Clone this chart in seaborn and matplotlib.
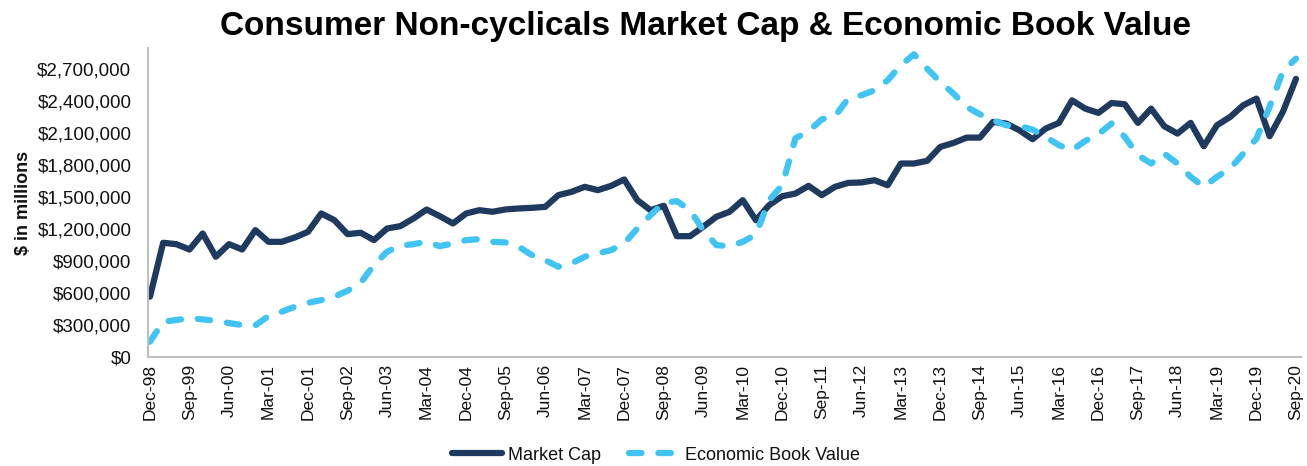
import matplotlib
matplotlib.use("Agg")
import matplotlib.pyplot as plt
import seaborn as sns
import pandas as pd
from matplotlib.ticker import FuncFormatter

# quarterly values, $ millions, Dec-98 .. Sep-20
market_cap = [
    566000, 1072000, 1059000, 1009000, 1159000, 941000, 1059000, 1009000, 1191000, 1081000,
    1081000, 1122000, 1175000, 1347000, 1284000, 1153000, 1166000, 1097000, 1206000, 1228000,
    1300000, 1384000, 1322000, 1253000, 1347000, 1378000, 1363000, 1385000, 1394000, 1400000,
    1409000, 1519000, 1550000, 1597000, 1566000, 1606000, 1666000, 1472000, 1378000, 1419000,
    1134000, 1134000, 1222000, 1316000, 1363000, 1472000, 1284000, 1425000, 1509000, 1534000,
    1606000, 1519000, 1597000, 1634000, 1638000, 1659000, 1612000, 1816000, 1816000, 1841000,
    1972000, 2009000, 2059000, 2059000, 2206000, 2191000, 2128000, 2044000, 2144000, 2197000,
    2409000, 2331000, 2291000, 2384000, 2372000, 2197000, 2331000, 2166000, 2097000, 2197000,
    1978000, 2175000, 2253000, 2363000, 2425000, 2072000, 2300000, 2610000,
]
economic_book_value = [
    144000, 331000, 347000, 365000, 353000, 340000, 318000, 300000, 297000, 384000,
    425000, 472000, 509000, 534000, 566000, 622000, 697000, 863000, 988000, 1044000,
    1059000, 1081000, 1040000, 1066000, 1097000, 1106000, 1081000, 1075000, 1034000, 956000,
    909000, 847000, 878000, 941000, 972000, 1003000, 1066000, 1206000, 1331000, 1447000,
    1463000, 1378000, 1191000, 1050000, 1040000, 1081000, 1150000, 1472000, 1612000, 2053000,
    2119000, 2231000, 2259000, 2425000, 2456000, 2503000, 2597000, 2738000, 2841000, 2706000,
    2581000, 2472000, 2347000, 2278000, 2222000, 2175000, 2169000, 2134000, 2066000, 1988000,
    1941000, 2028000, 2091000, 2191000, 2066000, 1894000, 1816000, 1909000, 1816000, 1691000,
    1597000, 1691000, 1769000, 1909000, 2050000, 2350000, 2680000, 2800000,
]
quarters = pd.period_range("1998Q4", "2020Q3", freq="Q")
quarter_labels = [q.end_time.strftime("%b-%y") for q in quarters]
series_names = ["Market Cap", "Economic Book Value"]
colors = {"Market Cap": "#1f3a5f", "Economic Book Value": "#40c4f3"}

n = len(quarters)
df = pd.DataFrame({
    "pos": list(range(n)) * 2,
    "value": market_cap + economic_book_value,
    "series": [series_names[0]] * n + [series_names[1]] * n,
})

sns.set_theme(style="white")
plt.rcParams["font.family"] = ["Liberation Sans", "DejaVu Sans"]

fig = plt.figure(figsize=(13.07, 4.66), dpi=100)
ax = fig.add_axes([148 / 1307, 1 - 357 / 466, 1153 / 1307, 309 / 466])

sns.lineplot(data=df, x="pos", y="value", hue="series", style="series",
             palette=colors, dashes={"Market Cap": "", "Economic Book Value": (2, 2.7)},
             linewidth=4.5, ax=ax, legend=False)
for line in ax.lines:
    line.set_dash_capstyle("round")
    line.set_solid_capstyle("round")
    line.set_solid_joinstyle("round")
    line.set_dash_joinstyle("round")

ax.set_xlim(-0.15, n - 1 + 0.38)
ax.set_ylim(0, 2900000)
ax.set_yticks(range(0, 2700001, 300000))
ax.yaxis.set_major_formatter(FuncFormatter(lambda v, p: f"${v:,.0f}"))
ax.set_xticks(range(0, n, 3))
ax.set_xticklabels(quarter_labels[::3], rotation=90)
ax.tick_params(axis="y", length=0, pad=12, labelsize=13.5, labelcolor="#111111")
ax.tick_params(axis="x", length=0, pad=5, labelsize=12.5, labelcolor="#111111")

for s in ["top", "right"]:
    ax.spines[s].set_visible(False)
for s in ["left", "bottom"]:
    ax.spines[s].set_color("#bfbfbf")
    ax.spines[s].set_linewidth(1.5)

ax.set_xlabel("")
ax.set_ylabel("$ in millions", fontsize=13, fontweight="bold", color="#111111")
ax.yaxis.set_label_coords(-0.101, 0.5)

fig.text(706 / 1307, 1 - 27 / 466, "Consumer Non-cyclicals Market Cap & Economic Book Value",
         ha="center", va="center", fontsize=24, fontweight="bold", color="#000000")

handles = ax.lines[:2]
leg = fig.legend(handles, series_names, loc="center", bbox_to_anchor=(656 / 1307, 1 - 455 / 466),
                 ncol=2, frameon=False, fontsize=13, handlelength=2.8, columnspacing=1.6,
                 handletextpad=0.3)
for t in leg.get_texts():
    t.set_color("#111111")

fig.savefig("out.png", dpi=100)
